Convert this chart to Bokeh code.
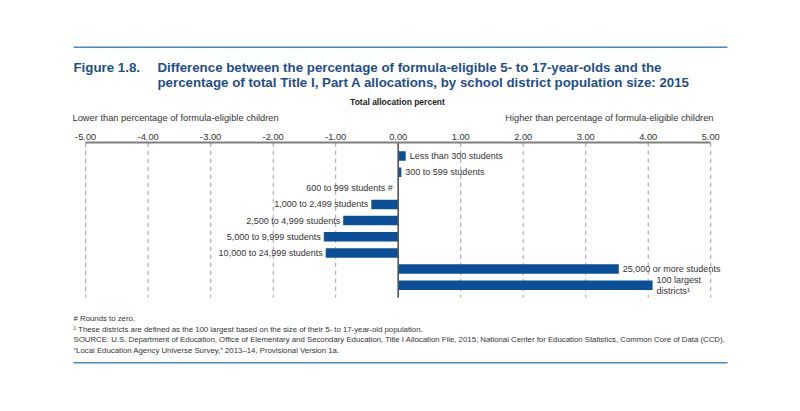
from bokeh.plotting import figure
from bokeh.models import Range1d, LinearAxis, FixedTicker, PrintfTickFormatter, Label, ColumnDataSource
from bokeh.core.properties import value
from bokeh.embed import file_html
from bokeh.resources import INLINE

# ---- data ----
categories = ["Less than 300 students", "300 to 599 students", "600 to 999 students",
              "1,000 to 2,499 students", "2,500 to 4,999 students", "5,000 to 9,999 students",
              "10,000 to 24,999 students", "25,000 or more students", "100 largest\ndistricts\u00b9"]
values = [0.12, 0.05, 0.0, -0.43, -0.88, -1.19, -1.16, 3.53, 4.07]
notes = ["", "", "  #", "", "", "", "", "", ""]
ticks = [-5, -4, -3, -2, -1, 0, 1, 2, 3, 4, 5]

FONT = "Liberation Sans"
BLUE = "#0b4f98"
TITLE_BLUE = "#1f4e8d"
RULE_BLUE = "#4a86c4"
TXT = "#333333"

W, H = 784, 395
# canvas px -> data helpers
X0, XS = 397.7, 62.5          # zero position and px per unit
Y0, YS = 155.5, 16.15         # first row centre and px per row
def dx(px): return (px - X0) / XS
def dy(py): return (py - Y0) / YS

p = figure(width=W, height=H, output_backend="svg", toolbar_location=None,
           x_axis_type=None, y_axis_type=None,
           x_range=Range1d(dx(0), dx(W)), y_range=Range1d(dy(H), dy(0)),
           min_border=0, min_border_left=0, min_border_right=0, min_border_top=0, min_border_bottom=0)
p.outline_line_color = None
p.xgrid.visible = False
p.ygrid.visible = False
p.background_fill_color = "white"

axis_y = dy(142.3)
grid_bottom = dy(297)

# top / bottom rules
p.segment(x0=[dx(73), dx(73)], y0=[dy(46.7), dy(362.3)], x1=[dx(727), dx(727)], y1=[dy(46.7), dy(362.3)],
          line_color=RULE_BLUE, line_width=1.5)

# dashed gridlines
p.segment(x0=ticks, y0=[axis_y] * len(ticks), x1=ticks, y1=[grid_bottom] * len(ticks),
          line_color="#9a9a9a", line_width=1, line_dash="4 4")

rows = list(range(len(categories)))
src = ColumnDataSource(dict(
    y=rows, v=values, zero=[0] * len(values),
    label=[c + n for c, n in zip(categories, notes)],
    align=["left" if v > 0 else "right" for v in values],
    xoff=[4 if v > 0 else -3 for v in values],
))
p.hbar(y="y", left="zero", right="v", height=0.59, source=src, fill_color=BLUE, line_color=None)

# zero line
p.segment(x0=[0], y0=[axis_y], x1=[0], y1=[grid_bottom], line_color="#555555", line_width=1.6)

p.text(x="v", y="y", text="label", source=src, text_align="align", x_offset="xoff",
       text_baseline="middle", text_font=value(FONT), text_font_size="9px",
       text_color=TXT, text_line_height=1.1)

# top axis
ax = LinearAxis(ticker=FixedTicker(ticks=ticks), formatter=PrintfTickFormatter(format="%.2f"))
ax.fixed_location = axis_y
ax.bounds = (-5, 5)
ax.axis_line_color = "#7f7f7f"
ax.axis_line_width = 2
ax.major_tick_line_color = None
ax.minor_tick_line_color = None
ax.major_tick_out = 0
ax.major_tick_in = 0
ax.major_label_standoff = 3
ax.major_label_text_font = FONT
ax.major_label_text_font_size = "9.3px"
ax.major_label_text_color = TXT
p.add_layout(ax, "above")

def lab(text, px, py, size, bold=False, color=TXT, align="left"):
    p.add_layout(Label(x=px, y=H - py, x_units="screen", y_units="screen", text=text,
                       text_font=FONT, text_font_size=size, text_font_style="bold" if bold else "normal",
                       text_color=color, text_align=align, text_baseline="middle"))

lab("Figure 1.8.", 73, 67.3, "13.3px", True, TITLE_BLUE)
lab("Difference between the percentage of formula-eligible 5- to 17-year-olds and the", 157, 67.3, "13.3px", True, TITLE_BLUE)
lab("percentage of total Title I, Part A allocations, by school district population size: 2015", 157, 81.7, "13.3px", True, TITLE_BLUE)
lab("Total allocation percent", 397, 101, "8.5px", True, "#222222", "center")
lab("Lower than percentage of formula-eligible children", 72, 117, "9.3px")
lab("Higher than percentage of formula-eligible children", 713, 117, "9.3px", align="right")

footnotes = [
    "# Rounds to zero.",
    "\u00b9 These districts are defined as the 100 largest based on the size of their 5- to 17-year-old population.",
    "SOURCE: U.S. Department of Education, Office of Elementary and Secondary Education, Title I Allocation File, 2015; National Center for Education Statistics, Common Core of Data (CCD),",
    "\u201cLocal Education Agency Universe Survey,\u201d 2013\u201314, Provisional Version 1a.",
]
for i, t in enumerate(footnotes):
    lab(t, 73, 318 + 10.7 * i, "7.8px")

open("out.html", "w").write(file_html(p, INLINE))
